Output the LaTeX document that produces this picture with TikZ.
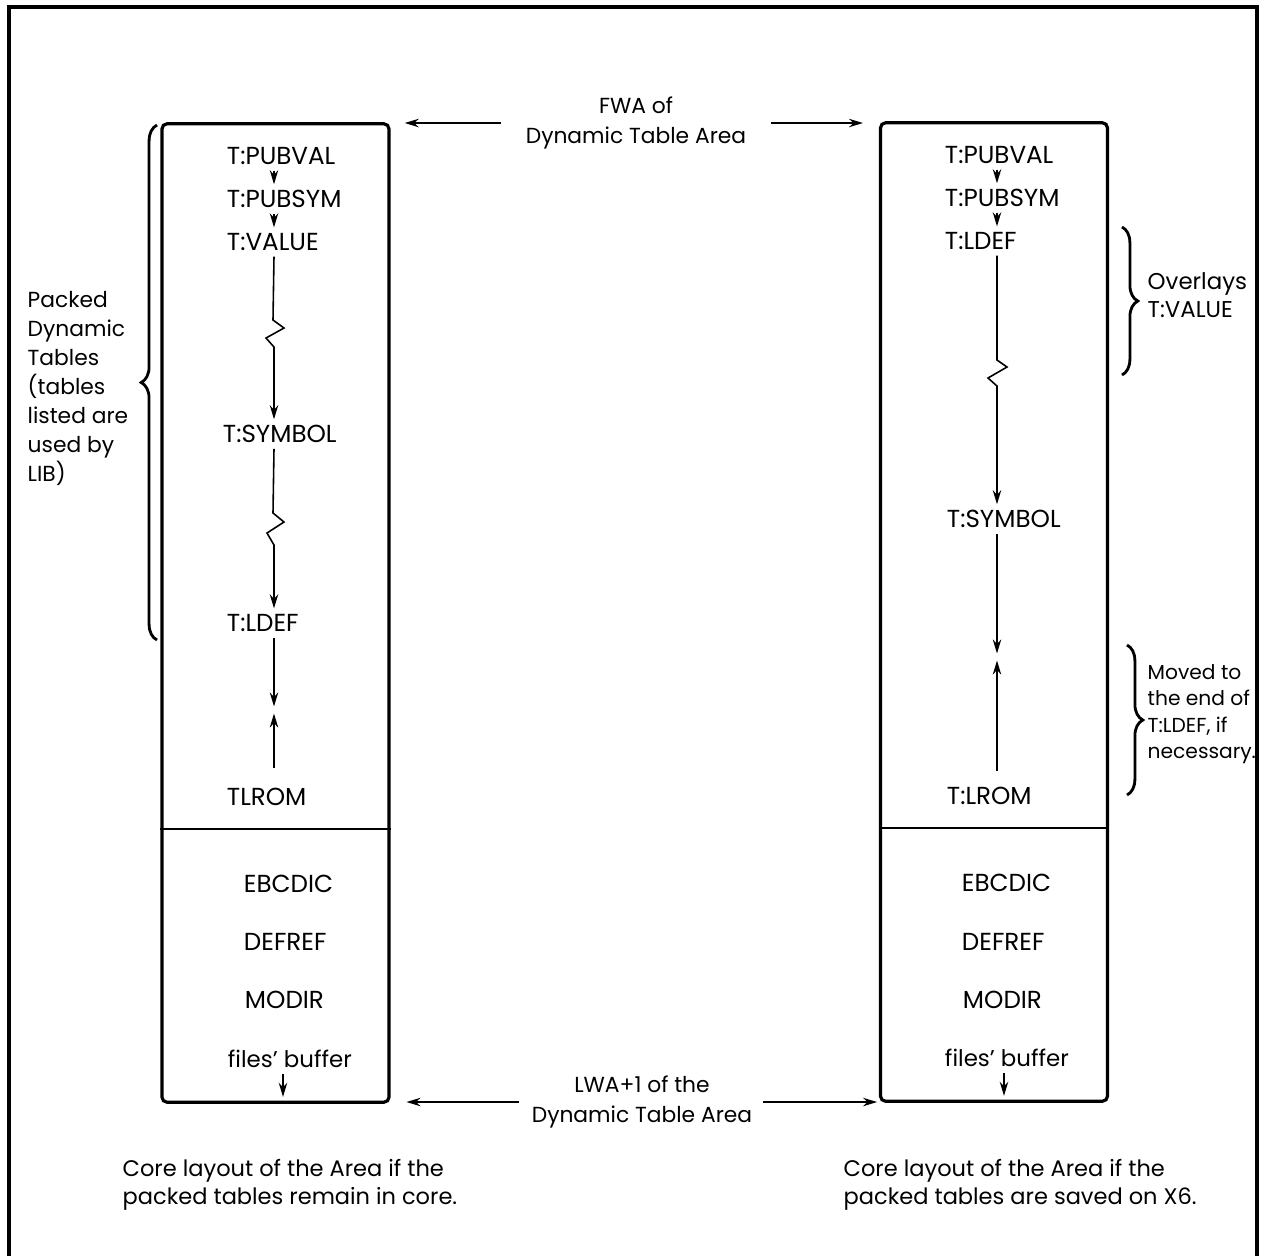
\documentclass[tikz,border=0pt]{standalone}
\usepackage{fontspec}
\setmainfont{Poppins}
\usetikzlibrary{arrows.meta,decorations.pathreplacing}

\tikzset{
  tbl/.style={font=\fontsize{7}{8.3}\selectfont, inner sep=1.5pt, anchor=west},
  txt/.style={font=\fontsize{6.3}{8.3}\selectfont, align=left, inner sep=0pt},
  arr/.style={-{Stealth[length=4pt,width=2.4pt]}, line width=0.45pt},
  area/.style={draw, line width=0.9pt, rounded corners=1.5pt, minimum width=2.27cm, minimum height=9.78cm, inner sep=0pt},
  brc/.style={decorate, decoration={brace, amplitude=4.5pt}, line width=0.8pt},
}

\begin{document}
\begin{tikzpicture}[x=0.01cm,y=-0.01cm]
\useasboundingbox (0,0) rectangle (1266,1256);
\draw[line width=0.9pt] (9,1256) -- (9,7) -- (1257,7) -- (1257,1256);

\node[area] (lbox) at (275.5,613) {};
\node[area] (rbox) at (994,612) {};
\draw[line width=0.7pt] (lbox.west |- 0,829) -- (lbox.east |- 0,829);
\draw[line width=0.7pt] (rbox.west |- 0,828) -- (rbox.east |- 0,828);

\node[tbl] (lpubval) at (221,156) {T:PUBVAL};
\node[tbl] (lpubsym) at (221,199) {T:PUBSYM};
\node[tbl] (lvalue) at (221,242) {T:VALUE};
\node[tbl] (lsymbol) at (217,434) {T:SYMBOL};
\node[tbl] (lldef) at (221,623) {T:LDEF};
\node[tbl] (lrom) at (221,797) {TLROM};
\node[tbl] (lebc) at (238,884) {EBCDIC};
\node[tbl] (ldefref) at (238,942) {DEFREF};
\node[tbl] (lmod) at (239,1000) {MODIR};
\node[tbl, font=\fontsize{6.5}{8}\selectfont] (lbuf) at (222,1059) {files' buffer};

\node[tbl] (rpubval) at (939,155) {T:PUBVAL};
\node[tbl] (rpubsym) at (939,198) {T:PUBSYM};
\node[tbl] (rldef) at (939,241) {T:LDEF};
\node[tbl] (rsymbol) at (941,519) {T:SYMBOL};
\node[tbl] (rrom) at (941,796) {T:LROM};
\node[tbl] (rebc) at (956,883) {EBCDIC};
\node[tbl] (rdefref) at (956,942) {DEFREF};
\node[tbl] (rmod) at (957,1000) {MODIR};
\node[tbl, font=\fontsize{6.5}{8}\selectfont] (rbuf) at (939,1058) {files' buffer};

\coordinate (lx) at (274,0);
\coordinate (rx) at (997,0);
\coordinate (lbx) at (283,0);
\coordinate (rbx) at (1004,0);
\coordinate (lmid) at (274,710);
\coordinate (rmid) at (997,657);

\draw[arr] (lpubval.south -| lx) -- (lpubsym.north -| lx);
\draw[arr] (lpubsym.south -| lx) -- (lvalue.north -| lx);
\draw[arr] (lvalue.south -| lx) -- (273,320) -- ++(11,8) -- ++(-18,10) -- ++(8,9) -- (lsymbol.north -| lx);
\draw[arr] (lsymbol.south -| lx) -- (273,513) -- ++(11,9) -- ++(-17,11) -- ++(7,12) -- (lldef.north -| lx);
\draw[arr] (lldef.south -| lx) -- ([yshift=1pt]lmid);
\draw[arr, shorten <=4pt] (lrom.north -| lx) -- ([yshift=-1pt]lmid);
\draw[arr, shorten >=2pt] (lbuf.south -| lbx) -- (lbox.south -| lbx);

\draw[arr] (rpubval.south -| rx) -- (rpubsym.north -| rx);
\draw[arr] (rpubsym.south -| rx) -- (rldef.north -| rx);
\draw[arr] (rldef.south -| rx) -- (997,360) -- ++(10,7) -- ++(-19,11) -- ++(9,8) -- (rsymbol.north -| rx);
\draw[arr] (rsymbol.south -| rx) -- ([yshift=1pt]rmid);
\draw[arr, shorten <=3pt] (rrom.north -| rx) -- ([yshift=-1pt]rmid);
\draw[arr, shorten >=2pt] (rbuf.south -| rbx) -- (rbox.south -| rbx);

\node[txt, align=center, font=\fontsize{6.2}{8.5}\selectfont] (fwa) at (636,123) {FWA of\\Dynamic Table Area};
\draw[arr, shorten <=7pt, shorten >=4pt] (fwa.west) -- (fwa.west -| lbox.east);
\draw[arr, shorten <=7pt, shorten >=4.5pt] (fwa.east) -- (fwa.east -| rbox.west);
\node[txt, align=center, font=\fontsize{6.2}{8.5}\selectfont] (lwa) at (642,1102) {LWA+1 of the\\Dynamic Table Area};
\draw[arr, shorten <=3.5pt, shorten >=4.5pt] (lwa.west) -- (lwa.west -| lbox.east);
\draw[arr, shorten <=3pt, shorten >=0.5pt] (lwa.east) -- (lwa.east -| rbox.west);

\draw[brc] (157,640) -- (157,125);
\node[txt, anchor=west, font=\fontsize{6.2}{8.25}\selectfont] (packed) at (27,388) {Packed\\Dynamic\\Tables\\(tables\\listed are\\used by\\LIB)};
\draw[brc] (1122,227) -- (1122,375);
\node[txt, anchor=west, font=\fontsize{6.5}{8}\selectfont] (overlays) at (1147,295) {Overlays\\T:VALUE};
\draw[brc] (1127,645) -- (1127,795);
\node[txt, anchor=west, font=\fontsize{5.75}{7.5}\selectfont] (moved) at (1147,714) {Moved to\\the end of\\T:LDEF, if\\necessary.};

\node[txt, anchor=west, font=\fontsize{6.4}{8}\selectfont] (lcap) at (122,1185) {Core layout of the Area if the\\packed tables remain in core.};
\node[txt, anchor=west, font=\fontsize{6.4}{8}\selectfont] (rcap) at (843,1185) {Core layout of the Area if the\\packed tables are saved on X6.};
\end{tikzpicture}
\end{document}
